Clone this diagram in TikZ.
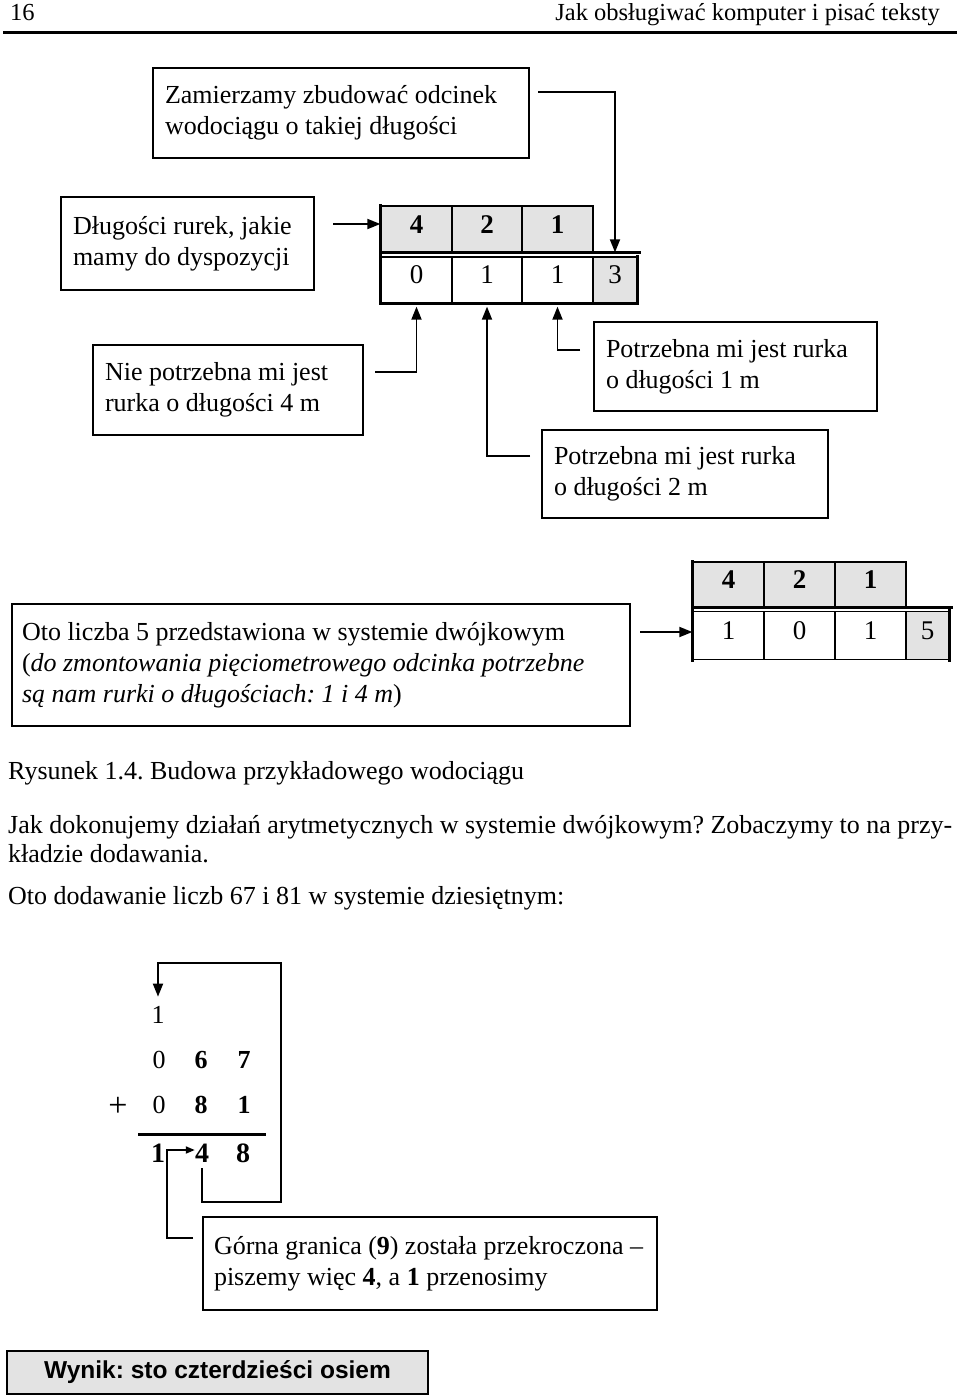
\documentclass[tikz,border=0pt]{standalone}
\usepackage{fontspec}
\setmainfont{Liberation Serif}
\newfontfamily\sansb{Liberation Sans}
\usetikzlibrary{arrows.meta}
\definecolor{cellgray}{HTML}{E3E3E3}
\frenchspacing
\newcommand\normsp{\spaceskip=0pt\relax\xspaceskip=0pt\relax}
\begin{document}
\begin{tikzpicture}[x=1pt,y=-1pt,
  every node/.style={inner sep=0pt},
  txt/.style={font=\fontsize{26}{31}\selectfont},
  box/.style={draw, line width=2pt, fill=white, font=\fontsize{26}{31}\selectfont, align=left, inner xsep=12pt, inner ysep=0pt},
  conn/.style={line width=1.8pt},
  arr/.style={conn, -{Triangle[length=13pt,width=10pt]}},
  sarr/.style={conn, -{Triangle[length=9pt,width=7pt]}},
  hcell/.style={draw, line width=1.3pt, fill=cellgray, text depth=9pt, font=\fontsize{27}{31}\selectfont\bfseries},
  bcell/.style={draw, line width=1.3pt, fill=white, text depth=10pt, font=\fontsize{27}{31}\selectfont},
  dig/.style={anchor=base, font=\fontsize{26}{31}\selectfont},
  bdig/.style={anchor=base, font=\fontsize{26}{31}\selectfont\bfseries},
  thick3/.style={line width=3pt, line cap=rect},
]
\useasboundingbox (0,0) rectangle (960,1397);

% header
\node[font=\fontsize{24.5}{30}\selectfont, anchor=base west] (pg) at (10,21) {16};
\node[font=\fontsize{24.5}{30}\selectfont, anchor=base east] (hd) at (940,21) {Jak obsługiwać komputer i pisać teksty};
\draw[line width=3pt] (3,32.5) -- (957,32.5);

% boxes of figure
\node[box, text width=352pt, minimum height=90pt] (B1) at (341,113)
  {\normsp Zamierzamy zbudować odcinek\\wodociągu o takiej długości};
\node[box, text width=229pt, minimum height=93pt] (B2) at (187.5,243.5)
  {\normsp Długości rurek, jakie\\mamy do dyspozycji};
\node[box, text width=246pt, minimum height=90pt] (B3) at (228,390)
  {\normsp Nie potrzebna mi jest\\rurka o długości 4 m};
\node[box, text width=259pt, minimum height=89pt] (B4) at (735.5,366.5)
  {\normsp Potrzebna mi jest rurka\\o długości 1 m};
\node[box, text width=262pt, minimum height=88pt] (B5) at (685,474)
  {\normsp Potrzebna mi jest rurka\\o długości 2 m};
\node[box, inner xsep=10pt, text width=598pt, minimum height=122pt] (B6) at (321,665)
  {\normsp Oto liczba 5 przedstawiona w systemie dwójkowym\\(\textit{do zmontowania pięciometrowego odcinka potrzebne}\\\textit{są nam rurki o długościach: 1 i 4 m})};

% table 1
\node[hcell, minimum width=71pt, minimum height=46pt] (t1h1) at (416.5,229) {4};
\node[hcell, minimum width=70pt, minimum height=46pt] (t1h2) at (487,229) {2};
\node[hcell, minimum width=71pt, minimum height=46pt] (t1h3) at (557.5,229) {1};
\node[bcell, minimum width=71pt, minimum height=46pt] (t1b1) at (416.5,280) {0};
\node[bcell, minimum width=70pt, minimum height=46pt] (t1b2) at (487,280) {1};
\node[bcell, minimum width=71pt, minimum height=46pt] (t1b3) at (557.5,280) {1};
\node[bcell, fill=cellgray, minimum width=44pt, minimum height=46pt] (t1b4) at (615,280) {3};
\draw[line width=2.4pt] (t1h1.south west) -- ([xshift=3pt]t1h3.south east -| t1b4.east);
\draw[thick3] (t1h1.north west) -- (t1b1.south west) -- (t1b4.south east) -- (t1b4.north east);

% table 2
\node[hcell, minimum width=71pt, minimum height=45pt] (t2h1) at (728.5,584.5) {4};
\node[hcell, minimum width=71pt, minimum height=45pt] (t2h2) at (799.5,584.5) {2};
\node[hcell, minimum width=71pt, minimum height=45pt] (t2h3) at (870.5,584.5) {1};
\node[bcell, minimum width=71pt, minimum height=48pt] (t2b1) at (728.5,635.5) {1};
\node[bcell, minimum width=71pt, minimum height=48pt] (t2b2) at (799.5,635.5) {0};
\node[bcell, minimum width=71pt, minimum height=48pt] (t2b3) at (870.5,635.5) {1};
\node[bcell, fill=cellgray, minimum width=43pt, minimum height=48pt] (t2b4) at (927.5,635.5) {5};
\draw[line width=2.4pt] (t2h1.south west) -- ([xshift=3pt]t2h3.south east -| t2b4.east);
\draw[thick3] (t2h1.north west) -- (t2b1.south west);
\draw[thick3] (t2b4.north east) -- (t2b4.south east);

% connectors of figure
\coordinate (s1) at (538,92);
\draw[arr] (s1) -| ([yshift=4pt]t1b4.north);
\coordinate (s2) at (333,224);
\draw[arr] (s2) -- (s2 -| t1h1.west);
\coordinate (s3) at (375,372);
\draw[arr] (s3) -| ([yshift=-3pt]t1b1.south);
\coordinate (s4) at (580,350);
\draw[arr] (s4) -| ([yshift=-3pt]t1b3.south);
\coordinate (s5) at (530,456);
\draw[arr] (s5) -| ([yshift=-3pt]t1b2.south);
\coordinate (s6) at (640,632);
\draw[arr] (s6) -- (s6 -| t2b1.west);

% texts
\node[txt, anchor=base west] (cap) at (8,779) {Rysunek 1.4. Budowa przykładowego wodociągu};
\node[txt, anchor=base west] (p1) at (8,833) {\makebox[944pt][s]{Jak dokonujemy działań arytmetycznych w systemie dwójkowym? Zobaczymy to na przy-}};
\node[txt, anchor=base west] (p2) at (8,862) {kładzie dodawania.};
\node[txt, anchor=base west] (p3) at (8,904) {Oto dodawanie liczb 67 i 81 w systemie dziesiętnym:};

% addition
\node[dig] (a0) at (158,1023) {1};
\node[dig] (n11) at (159,1068) {0};
\node[bdig] (n12) at (201,1068) {6};
\node[bdig] (n13) at (244,1068) {7};
\node[font=\fontsize{34}{34}\selectfont] (plus) at (118,1107) {+};
\node[dig] (n21) at (159,1113) {0};
\node[bdig] (n22) at (201,1113) {8};
\node[bdig] (n23) at (244,1113) {1};
\draw[line width=3pt] (138,1134) -- (266,1134);
\node[bdig, font=\fontsize{28}{31}\selectfont\bfseries] (r1) at (158,1162) {1};
\node[bdig, font=\fontsize{28}{31}\selectfont\bfseries] (r2) at (202,1162) {4};
\node[bdig, font=\fontsize{28}{31}\selectfont\bfseries] (r3) at (243,1162) {8};

\coordinate (k1) at (281,1202);
\coordinate (k2) at (158,963);
\draw[arr] ([yshift=-6pt]r2.south) |- (k1) |- (k2) -- ([yshift=9pt]a0.north);

\node[box, inner xsep=11pt, text width=432pt, minimum height=93pt] (B7) at (430,1263.5)
  {\normsp\makebox[429pt][s]{Górna granica (\textbf{9}) została przekroczona –}\\piszemy więc \textbf{4}, a \textbf{1} przenosimy};
\coordinate (g1) at (193,1238);
\coordinate (g2) at (167,1150);
\draw[sarr] (g1) -| (g2) -- (g2 -| r2.west);

\node[draw, line width=2pt, fill=cellgray, minimum width=421pt, minimum height=43pt, font=\sansb\bfseries\fontsize{24.5}{28}\selectfont] (B8) at (217.5,1372.5) {Wynik: sto czterdzieści osiem};
\end{tikzpicture}
\end{document}
